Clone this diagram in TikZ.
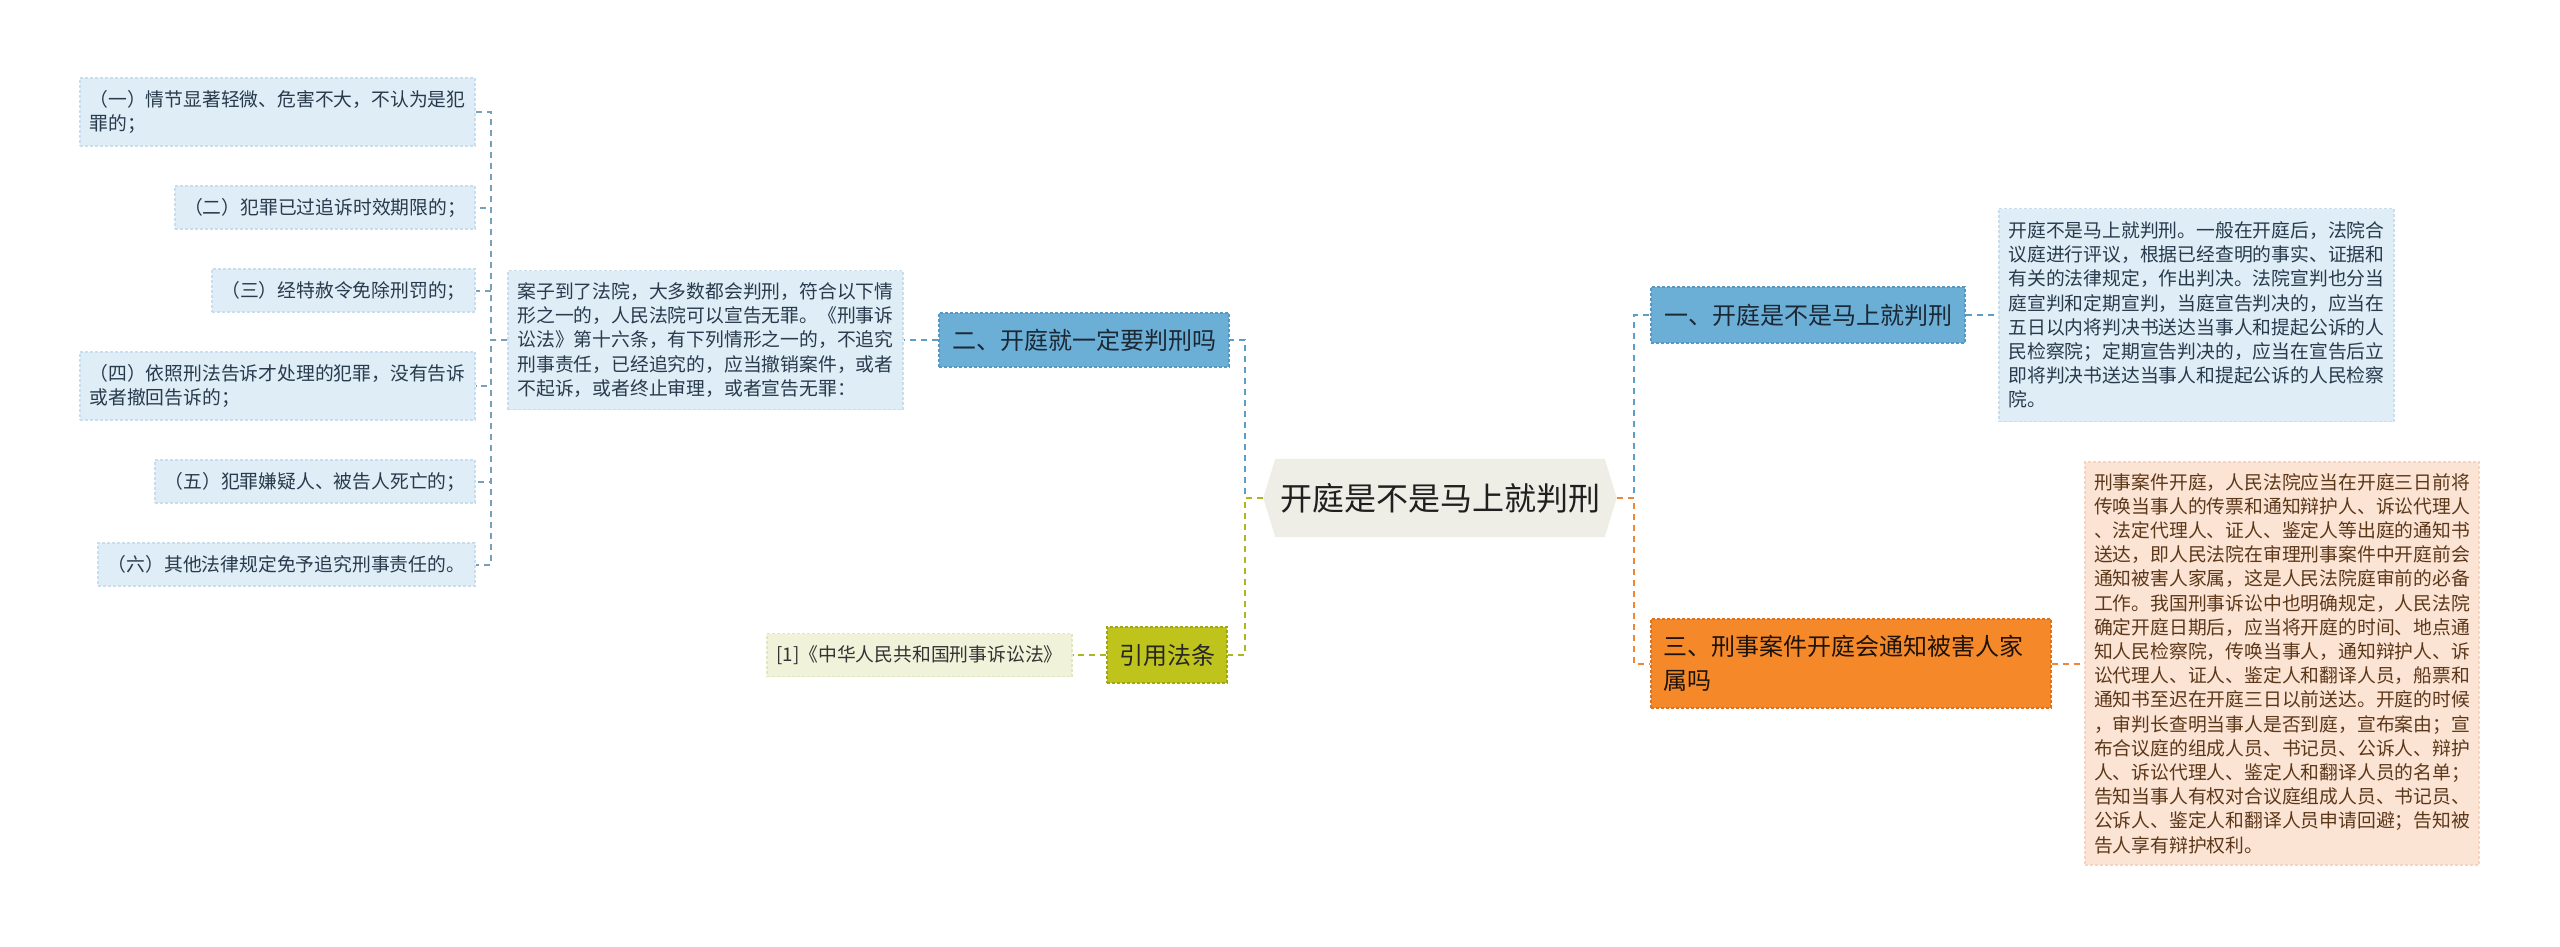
\documentclass[tikz,border=0pt]{standalone}
\usepackage{fontspec}
\setmainfont{Noto Sans CJK SC}
\usetikzlibrary{backgrounds}
\definecolor{lbfill}{RGB}{222,237,246}
\definecolor{lbborder}{RGB}{200,222,238}
\definecolor{lbtext}{RGB}{40,58,76}
\definecolor{bnfill}{RGB}{107,174,214}
\definecolor{bnborder}{RGB}{88,152,194}
\definecolor{bntext}{RGB}{28,40,52}
\definecolor{cfill}{RGB}{238,238,230}
\definecolor{olfill}{RGB}{190,196,28}
\definecolor{olborder}{RGB}{160,166,20}
\definecolor{reffill}{RGB}{240,243,218}
\definecolor{refborder}{RGB}{224,230,190}
\definecolor{orfill}{RGB}{245,137,42}
\definecolor{orborder}{RGB}{224,114,28}
\definecolor{pefill}{RGB}{252,228,212}
\definecolor{peborder}{RGB}{246,212,192}
\definecolor{petext}{RGB}{92,56,26}
\definecolor{cblue}{RGB}{92,158,198}
\definecolor{cleft}{RGB}{120,160,182}
\definecolor{cgreen}{RGB}{172,182,30}
\definecolor{corange}{RGB}{240,134,52}
\begin{document}
\begin{tikzpicture}[x=1pt,y=-1pt,
  boxbase/.style={inner sep=0pt, draw, line width=1.2pt, dash pattern=on 3pt off 2pt},
  smalltxt/.style={font=\fontsize{18.8}{24.2}\selectfont},
  midtxt/.style={font=\fontsize{24}{34}\selectfont},
  leaf/.style={boxbase, smalltxt, fill=lbfill, draw=lbborder, text=lbtext, align=left},
  bluenode/.style={boxbase, midtxt, fill=bnfill, draw=bnborder, text=bntext},
  olivenode/.style={boxbase, midtxt, fill=olfill, draw=olborder, text=black!85},
  refnode/.style={boxbase, smalltxt, fill=reffill, draw=refborder, text=black!80},
  orangenode/.style={boxbase, midtxt, fill=orfill, draw=orborder, text=black!85!brown, align=left},
  peachnode/.style={boxbase, smalltxt, fill=pefill, draw=peborder, text=petext, align=left},
  conbase/.style={line width=2pt, dash pattern=on 6pt off 5pt},
  conblue/.style={conbase, draw=cblue},
  conleft/.style={conbase, draw=cleft},
  congreen/.style={conbase, draw=cgreen},
  conorange/.style={conbase, draw=corange}
]
\useasboundingbox (0,0) rectangle (2560,947);

% center
\node[inner sep=0pt, minimum width=353pt, minimum height=78pt, font=\fontsize{32}{38}\selectfont, text=black!88] (C) at (1440,498) {开庭是不是马上就判刑};
\begin{pgfonlayer}{background}
\fill[white] (0,0) rectangle (2560,947);
\fill[cfill] (C.west) -- ([xshift=12pt]C.north west) -- ([xshift=-12pt]C.north east) -- (C.east) -- ([xshift=-12pt]C.south east) -- ([xshift=12pt]C.south west) -- cycle;
\end{pgfonlayer}

% left branch
\node[bluenode, minimum width=290pt, minimum height=54pt] (B2) at (1084,340) {二、开庭就一定要判刑吗};
\node[leaf, minimum width=395pt, minimum height=139pt, text width=376pt] (P2) at (705.5,340) {案子到了法院，大多数都会判刑，符合以下情\\形之一的，人民法院可以宣告无罪。《刑事诉\\讼法》第十六条，有下列情形之一的，不追究\\刑事责任，已经追究的，应当撤销案件，或者\\不起诉，或者终止审理，或者宣告无罪：};

\node[leaf, minimum width=395pt, minimum height=68pt, text width=376pt] (L1) at (277.5,112) {（一）情节显著轻微、危害不大，不认为是犯\\罪的；};
\node[leaf, minimum width=300pt, minimum height=43pt, align=center] (L2) at (325,207.5) {（二）犯罪已过追诉时效期限的；};
\node[leaf, minimum width=263pt, minimum height=43pt, align=center] (L3) at (343.5,290.5) {（三）经特赦令免除刑罚的；};
\node[leaf, minimum width=395pt, minimum height=68pt, text width=376pt] (L4) at (277.5,386) {（四）依照刑法告诉才处理的犯罪，没有告诉\\或者撤回告诉的；};
\node[leaf, minimum width=320pt, minimum height=43pt, align=center] (L5) at (315,481.5) {（五）犯罪嫌疑人、被告人死亡的；};
\node[leaf, minimum width=377pt, minimum height=43pt, align=center] (L6) at (286.5,564.5) {（六）其他法律规定免予追究刑事责任的。};

\node[olivenode, minimum width=120pt, minimum height=56pt] (Cite) at (1167,655) {引用法条};
\node[refnode, minimum width=305pt, minimum height=43pt] (Ref) at (919.5,655) {[1]《中华人民共和国刑事诉讼法》};

% right branch
\node[bluenode, minimum width=314pt, minimum height=56pt] (R1) at (1808,315) {一、开庭是不是马上就判刑};
\node[leaf, minimum width=395pt, minimum height=213pt, text width=376pt] (R1t) at (2196.5,315) {开庭不是马上就判刑。一般在开庭后，法院合\\议庭进行评议，根据已经查明的事实、证据和\\有关的法律规定，作出判决。法院宣判也分当\\庭宣判和定期宣判，当庭宣告判决的，应当在\\五日以内将判决书送达当事人和提起公诉的人\\民检察院；定期宣告判决的，应当在宣告后立\\即将判决书送达当事人和提起公诉的人民检察\\院。};

\node[orangenode, minimum width=400pt, minimum height=89pt, text width=376pt] (R3) at (1851,663.5) {三、刑事案件开庭会通知被害人家\\属吗};
\node[peachnode, minimum width=394pt, minimum height=403pt, text width=376pt] (R3t) at (2282,663.5) {刑事案件开庭，人民法院应当在开庭三日前将\\传唤当事人的传票和通知辩护人、诉讼代理人\\、法定代理人、证人、鉴定人等出庭的通知书\\送达，即人民法院在审理刑事案件中开庭前会\\通知被害人家属，这是人民法院庭审前的必备\\工作。我国刑事诉讼中也明确规定，人民法院\\确定开庭日期后，应当将开庭的时间、地点通\\知人民检察院，传唤当事人，通知辩护人、诉\\讼代理人、证人、鉴定人和翻译人员，船票和\\通知书至迟在开庭三日以前送达。开庭的时候\\，审判长查明当事人是否到庭，宣布案由；宣\\布合议庭的组成人员、书记员、公诉人、辩护\\人、诉讼代理人、鉴定人和翻译人员的名单；\\告知当事人有权对合议庭组成人员、书记员、\\公诉人、鉴定人和翻译人员申请回避；告知被\\告人享有辩护权利。};

% connectors
\draw[conblue] (C.west) -- ++(-18,0) |- (B2.east);
\draw[congreen] (C.west) -- ++(-18,0) |- (Cite.east);
\draw[conblue] (C.east) -- ++(17,0) |- (R1.west);
\draw[conorange] (C.east) -- ++(17,0) |- (R3.west);
\draw[conblue] (B2.west) -- (P2.east);
\foreach \n in {L1,L2,L3,L4,L5,L6}{
  \draw[conleft] (P2.west) -- ++(-16,0) |- (\n.east);
}
\draw[congreen] (Cite.west) -- (Ref.east);
\draw[conblue] (R1.east) -- (R1t.west);
\draw[conorange] (R3.east) -- (R3t.west);
\end{tikzpicture}
\end{document}
